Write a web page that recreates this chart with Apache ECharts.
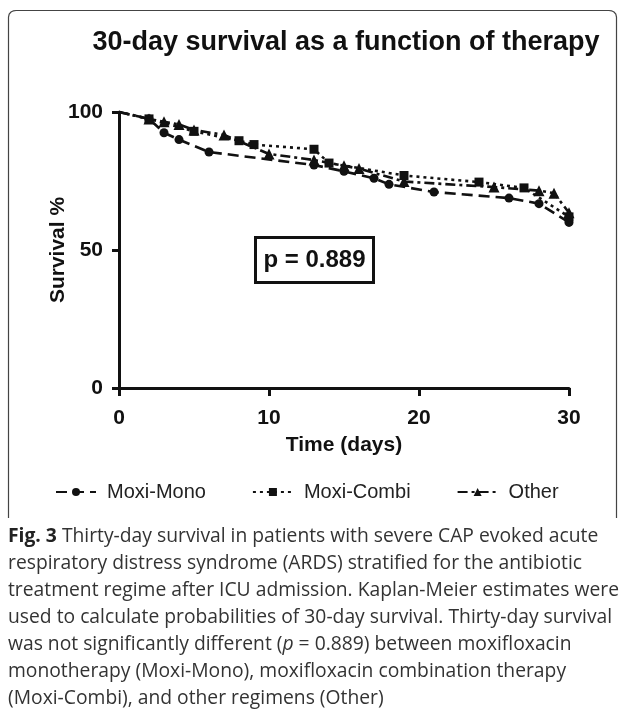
<!DOCTYPE html>
<html>
<head>
<meta charset="utf-8">
<script src="https://cdn.jsdelivr.net/npm/echarts@6/dist/echarts.min.js"></script>
<style>
  html, body { margin: 0; padding: 0; background: #fff; }
  #chart { width: 625px; height: 713px; }
</style>
</head>
<body>
<div id="chart"></div>
<script>
// Kaplan-Meier points: [day, survival %]
var moxiMono = [[0, 100], [2, 97.5], [3, 92.5], [4, 90], [6, 85.5], [13, 80.8], [15, 78.5], [17, 76], [18, 73.8], [21, 71], [26, 68.8], [28, 66.8], [30, 60]];
var moxiCombi = [[0, 100], [2, 97.5], [5, 93], [8, 89.6], [9, 88.2], [13, 86.5], [14, 81.5], [19, 77], [24, 74.6], [27, 72.5], [30, 62]];
var other = [[0, 100], [2, 97.5], [3, 96.5], [4, 95.5], [5, 93.5], [7, 91.7], [10, 84.8], [13, 82.6], [15, 80.5], [16, 79.5], [19, 74.8], [25, 72.8], [28, 71.5], [29, 70.6], [30, 63.5]];
var seriesNames = ["Moxi-Mono", "Moxi-Combi", "Other"];
var xTicks = [0, 10, 20, 30];
var yTicks = [0, 50, 100];
var pValue = "p = 0.889";

var captionLines = [
  [["b", "Fig. 3"], ["n", " Thirty-day survival in patients with severe CAP evoked acute"]],
  [["n", "respiratory distress syndrome (ARDS) stratified for the antibiotic"]],
  [["n", "treatment regime after ICU admission. Kaplan-Meier estimates were"]],
  [["n", "used to calculate probabilities of 30-day survival. Thirty-day survival"]],
  [["n", "was not significantly different ("], ["i", "p"], ["n", " = 0.889) between moxifloxacin"]],
  [["n", "monotherapy (Moxi-Mono), moxifloxacin combination therapy"]],
  [["n", "(Moxi-Combi), and other regimens (Other)"]]
];

var chart = echarts.init(document.getElementById("chart"));

// no marker on the starting point of each curve
function pts(arr) {
  return arr.map(function (p) {
    return p[0] === 0 ? { value: p, symbol: "none" } : p;
  });
}

var captionText = captionLines.map(function (line) {
  return line.map(function (s) { return "{" + s[0] + "|" + s[1] + "}"; }).join("");
}).join("\n");

var axisFont = { fontFamily: "Liberation Sans", fontWeight: "bold", fontSize: 21, color: "#111" };

var option = {
  backgroundColor: "#fff",
  animation: false,
  grid: { left: 119, right: 56, top: 112, bottom: 325 },
  xAxis: {
    type: "value",
    min: 0, max: 30, interval: 10,
    name: "Time (days)",
    nameLocation: "middle",
    nameGap: 47,
    nameMoveOverlap: false,
    nameTextStyle: { fontFamily: "Liberation Sans", fontWeight: "bold", fontSize: 21, color: "#111" },
    axisLine: { lineStyle: { color: "#111", width: 3 } },
    axisTick: { length: 8, lineStyle: { width: 3, color: "#111" } },
    axisLabel: Object.assign({
      margin: 20,
      formatter: function (v) { return xTicks.indexOf(v) >= 0 ? v : ""; }
    }, axisFont),
    splitLine: { show: false }
  },
  yAxis: {
    type: "value",
    min: 0, max: 100, interval: 50,
    name: "Survival %",
    nameLocation: "middle",
    nameRotate: 90,
    nameGap: 50,
    nameMoveOverlap: false,
    nameTextStyle: { fontFamily: "Liberation Sans", fontWeight: "bold", fontSize: 21, color: "#111" },
    axisLine: { show: true, lineStyle: { color: "#111", width: 3 } },
    axisTick: { show: true, length: 7, lineStyle: { width: 3, color: "#111" } },
    axisLabel: Object.assign({
      margin: 16,
      formatter: function (v) { return yTicks.indexOf(v) >= 0 ? v : ""; }
    }, axisFont),
    splitLine: { show: false }
  },
  legend: {
    left: 50,
    top: 477,
    itemWidth: 40,
    itemHeight: 10,
    itemGap: 46,
    textStyle: { fontFamily: "Liberation Sans", fontSize: 20, color: "#222", padding: [0, 0, 0, 6] },
    data: seriesNames
  },
  series: [
    {
      name: seriesNames[0], type: "line", data: pts(moxiMono),
      symbol: "circle", symbolSize: 9,
      lineStyle: { color: "#111", width: 2.6, type: [11, 6] },
      itemStyle: { color: "#111" }
    },
    {
      name: seriesNames[1], type: "line", data: pts(moxiCombi),
      symbol: "rect", symbolSize: 9,
      lineStyle: { color: "#111", width: 2.6, type: [3, 4] },
      itemStyle: { color: "#111" }
    },
    {
      name: seriesNames[2], type: "line", data: pts(other),
      symbol: "triangle", symbolSize: 11,
      lineStyle: { color: "#111", width: 2.6, type: [10, 4, 3, 4] },
      itemStyle: { color: "#111" }
    }
  ],
  graphic: [
    {
      // figure frame with rounded top corners, open at the bottom
      type: "polyline",
      shape: {
        points: [[8.5, 518], [8.5, 17], [9.2, 14], [11, 12], [13.5, 10.8], [16, 10.5],
                 [609, 10.5], [611.5, 10.8], [614, 12], [615.8, 14], [616.5, 17], [616.5, 518]]
      },
      style: { fill: null, stroke: "#444", lineWidth: 1.2 }
    },
    {
      type: "text",
      x: 346, y: 43,
      style: {
        text: "30-day survival as a function of therapy",
        align: "center", verticalAlign: "middle",
        font: "bold 27px 'Liberation Sans'", fill: "#111"
      }
    },
    {
      type: "rect",
      shape: { x: 255.5, y: 237.5, width: 118, height: 45 },
      style: { fill: "#fff", stroke: "#111", lineWidth: 3 }
    },
    {
      type: "text",
      x: 314.5, y: 260,
      style: {
        text: pValue, align: "center", verticalAlign: "middle",
        font: "bold 24px 'Liberation Sans'", fill: "#111"
      }
    },
    {
      type: "text",
      x: 8, y: 523,
      style: {
        text: captionText,
        lineHeight: 27,
        fill: "#333",
        rich: {
          n: { fontFamily: "Open Sans", fontSize: 19.3, lineHeight: 27, fill: "#333" },
          b: { fontFamily: "Open Sans", fontSize: 19.3, fontWeight: "bold", lineHeight: 27, fill: "#222" },
          i: { fontFamily: "Open Sans", fontSize: 19.3, fontStyle: "italic", lineHeight: 27, fill: "#333" }
        }
      }
    }
  ]
};

chart.setOption(option);
</script>
</body>
</html>
